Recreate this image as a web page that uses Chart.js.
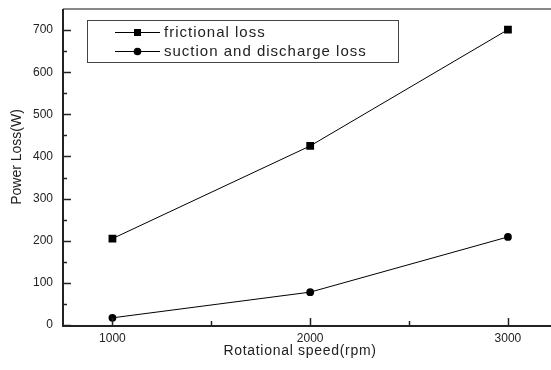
<!DOCTYPE html>
<html>
<head>
<meta charset="utf-8">
<script src="https://cdn.jsdelivr.net/npm/chart.js@4/dist/chart.umd.min.js"></script>
<style>
html,body{margin:0;padding:0;background:#fff;overflow:hidden;}
#wrap{width:551px;height:370px;position:relative;}
</style>
</head>
<body>
<div id="wrap"><canvas id="c" width="551" height="370"></canvas></div>
<script>
const speeds = [1000, 2000, 3000];
const frictionalLoss = [205, 425, 701];
const suctionDischargeLoss = [17, 78, 209];
const seriesNames = ['frictional loss', 'suction and discharge loss'];
const xMajorTicks = [1000, 2000, 3000];
const xMinorTicks = [1500, 2500];
const yMajorTicks = [0, 100, 200, 300, 400, 500, 600, 700];
const yMinorTicks = [50, 150, 250, 350, 450, 550, 650];
const xTitle = 'Rotational speed(rpm)';
const yTitle = 'Power Loss(W)';

const FONT = "'Liberation Sans', Arial, sans-serif";

const framePlugin = {
  id: 'frame',
  afterDraw(chart) {
    const ctx = chart.ctx;
    const a = chart.chartArea;
    const xs = chart.scales.x, ys = chart.scales.y;
    const right = chart.width;
    ctx.save();
    // top border
    ctx.strokeStyle = '#888';
    ctx.lineWidth = 2;
    ctx.beginPath(); ctx.moveTo(a.left, a.top); ctx.lineTo(right, a.top); ctx.stroke();
    // axes
    ctx.strokeStyle = '#222';
    ctx.lineWidth = 2;
    ctx.beginPath(); ctx.moveTo(a.left, a.top); ctx.lineTo(a.left, a.bottom + 1); ctx.lineTo(right, a.bottom + 1); ctx.stroke();
    // ticks inward
    ctx.lineWidth = 1.5;
    ctx.beginPath();
    yMajorTicks.forEach(v => { const y = Math.round(ys.getPixelForValue(v)) + 0.5; ctx.moveTo(a.left, y); ctx.lineTo(a.left + 8, y); });
    yMinorTicks.forEach(v => { const y = Math.round(ys.getPixelForValue(v)) + 0.5; ctx.moveTo(a.left, y); ctx.lineTo(a.left + 4, y); });
    xMajorTicks.forEach(v => { const x = Math.round(xs.getPixelForValue(v)) + 0.5; ctx.moveTo(x, a.bottom); ctx.lineTo(x, a.bottom - 7); });
    xMinorTicks.forEach(v => { const x = Math.round(xs.getPixelForValue(v)) + 0.5; ctx.moveTo(x, a.bottom); ctx.lineTo(x, a.bottom - 4); });
    ctx.stroke();

    // axis titles
    ctx.fillStyle = '#222';
    ctx.textAlign = 'center';
    ctx.textBaseline = 'middle';
    ctx.font = '14px ' + FONT;
    ctx.letterSpacing = '0.7px';
    ctx.fillText(xTitle, 300, 351);
    ctx.letterSpacing = '0px';
    ctx.save();
    ctx.translate(17, 157);
    ctx.rotate(-Math.PI / 2);
    ctx.fillText(yTitle, 0, 0);
    ctx.restore();

    // legend box
    const bx = 87.5, by = 20.5, bw = 311, bh = 42;
    ctx.strokeStyle = '#444';
    ctx.lineWidth = 1;
    ctx.fillStyle = '#fff';
    ctx.fillRect(bx, by, bw, bh);
    ctx.strokeRect(bx, by, bw, bh);
    const rows = [32, 51];
    ctx.font = '15px ' + FONT;
    ctx.letterSpacing = '1px';
    ctx.textAlign = 'left';
    ctx.textBaseline = 'middle';
    rows.forEach((ry, i) => {
      ctx.strokeStyle = '#000';
      ctx.lineWidth = 1;
      ctx.beginPath(); ctx.moveTo(115, ry + 0.5); ctx.lineTo(160, ry + 0.5); ctx.stroke();
      ctx.fillStyle = '#000';
      if (i === 0) { ctx.fillRect(134, ry - 3, 7, 7); }
      else { ctx.beginPath(); ctx.arc(137.5, ry + 0.5, 3.8, 0, Math.PI * 2); ctx.fill(); }
      ctx.fillStyle = '#222';
      ctx.fillText(seriesNames[i], 164, ry + 1);
    });
    ctx.letterSpacing = '0px';
    ctx.restore();
  }
};

new Chart(document.getElementById('c'), {
  type: 'scatter',
  data: {
    datasets: [
      {
        label: seriesNames[0],
        data: speeds.map((s, i) => ({ x: s, y: frictionalLoss[i] })),
        showLine: true,
        borderColor: '#000',
        backgroundColor: '#000',
        borderWidth: 1,
        pointStyle: 'rect',
        pointRadius: 5.5,
        pointBorderWidth: 0
      },
      {
        label: seriesNames[1],
        data: speeds.map((s, i) => ({ x: s, y: suctionDischargeLoss[i] })),
        showLine: true,
        borderColor: '#000',
        backgroundColor: '#000',
        borderWidth: 1,
        pointStyle: 'circle',
        pointRadius: 3.9,
        pointBorderWidth: 0
      }
    ]
  },
  options: {
    responsive: false,
    animation: false,
    layout: { padding: { top: 9, right: 0, left: 0, bottom: 0 } },
    plugins: { legend: { display: false }, tooltip: { enabled: false } },
    scales: {
      x: {
        type: 'linear',
        min: 750,
        max: 3190,
        afterBuildTicks: s => { s.ticks = xMajorTicks.map(v => ({ value: v })); },
        ticks: { color: '#222', font: { family: FONT, size: 12 }, padding: 6, maxRotation: 0, callback: v => String(v) },
        grid: { display: false, drawTicks: false },
        border: { display: false },
        title: { display: false },
        afterFit: s => { s.height = 45; s.paddingRight = 0; s.paddingLeft = 0; }
      },
      y: {
        type: 'linear',
        min: 0,
        max: 750,
        afterBuildTicks: s => { s.ticks = yMajorTicks.map(v => ({ value: v })); },
        ticks: { color: '#222', font: { family: FONT, size: 12 }, padding: 10, callback: v => String(v) },
        grid: { display: false, drawTicks: false },
        border: { display: false },
        title: { display: false },
        afterFit: s => { s.width = 63; s.paddingTop = 0; s.paddingBottom = 0; }
      }
    }
  },
  plugins: [framePlugin]
});
</script>
</body>
</html>
